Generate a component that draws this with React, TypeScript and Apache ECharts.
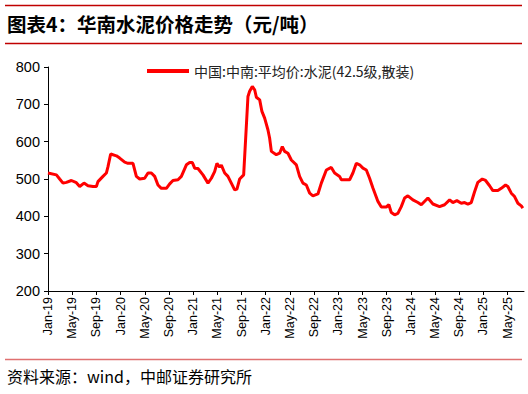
import React, { useEffect, useRef } from "react";
import * as echarts from "echarts";

// x = months since Jan 2019 (0 = Jan-19), y = price (元/吨)
const monthOffsets = [
  0.0, 1.39, 1.93, 2.48, 3.04, 3.87, 4.69, 5.24, 5.95, 6.61, 7.44, 8.0, 8.26, 9.09, 9.65, 9.92,
  10.36, 11.31, 11.85, 12.68, 13.22, 14.05, 14.61, 15.16, 15.98, 16.53, 17.09, 17.64, 18.18,
  18.74, 19.57, 20.12, 20.66, 21.49, 22.05, 22.88, 23.42, 23.87, 24.25, 24.79, 25.62, 26.45,
  27.01, 27.55, 27.93, 28.38, 28.66, 29.21, 29.75, 30.31, 30.86, 31.24, 31.69, 32.35, 33.06,
  33.34, 33.78, 34.17, 34.45, 35.0, 35.37, 35.82, 36.36, 36.64, 36.93, 37.75, 38.3, 38.74,
  39.12, 39.67, 40.23, 41.06, 41.6, 42.15, 42.71, 43.26, 43.8, 44.63, 45.19, 46.02, 46.84,
  47.39, 48.21, 48.5, 49.87, 50.41, 50.98, 51.52, 52.07, 52.63, 53.17, 53.72, 54.55, 55.11,
  55.93, 56.36, 56.76, 57.31, 57.85, 58.41, 58.96, 59.5, 60.33, 61.16, 61.72, 62.81, 63.64,
  64.74, 65.57, 66.4, 66.94, 67.6, 68.33, 68.88, 69.42, 69.98, 70.53, 71.07, 71.8, 72.35,
  73.01, 73.55, 74.38, 74.94, 75.65, 76.03, 76.6, 77.14, 77.69, 78.25, 78.51,
];
const prices = [
  516, 511, 500, 489, 491, 496, 490, 480, 489, 482, 480, 480, 493, 507, 516, 533,
  567, 562, 556, 545, 542, 542, 507, 500, 502, 516, 516, 507, 484,
  475, 475, 487, 496, 498, 507, 538, 544, 544, 529, 528, 511, 489,
  502, 520, 542, 532, 537, 516, 507, 489, 471, 473, 500, 511, 721,
  735, 748, 739, 719, 712, 681, 663, 632, 610, 574, 565, 569, 587,
  574, 569, 551, 538, 507, 489, 484, 462, 455, 460, 489, 524, 531,
  516, 507, 498, 498, 516, 542, 538, 529, 524, 502, 476, 440, 425,
  425, 431, 410, 404, 408, 426, 449, 455, 444, 437, 431, 449, 433,
  426, 431, 444, 437, 442, 435, 437, 433, 437, 466, 491, 500, 496,
  482, 469, 469, 475, 484, 480, 462, 453, 435, 428, 422,
];
const monthNames = ["Jan", "Feb", "Mar", "Apr", "May", "Jun", "Jul", "Aug", "Sep", "Oct", "Nov", "Dec"];
const seriesName = "中国:中南:平均价:水泥(42.5级,散装)";
const titleText = "图表4：华南水泥价格走势（元/吨）";
const sourceText = "资料来源：wind，中邮证券研究所";

export default function App() {
  const ref = useRef<HTMLDivElement>(null);
  useEffect(() => {
    if (!ref.current) return;
    const chart = echarts.init(ref.current, null, { renderer: "svg" });
    const data = monthOffsets.map((m, i) => [m, prices[i]]);
    chart.setOption({
      animation: false,
      backgroundColor: "#ffffff",
      grid: { left: 48, top: 67, right: 4, bottom: 103, containLabel: false },
      legend: {
        left: 142,
        top: 59,
        itemWidth: 42,
        itemHeight: 4,
        icon: "rect",
        itemGap: 6,
        textStyle: { fontSize: 14, color: "#222", fontFamily: "Noto Sans CJK SC" },
        data: [seriesName],
      },
      xAxis: {
        type: "value",
        min: 0,
        max: 78.7,
        interval: 4,
        axisLine: { show: true, onZero: false, lineStyle: { color: "#000", width: 1 } },
        axisTick: { show: true, length: 4, lineStyle: { color: "#000" } },
        splitLine: { show: false },
        axisLabel: {
          rotate: 90,
          fontSize: 12.5,
          color: "#000",
          margin: 6,
          fontFamily: "Liberation Sans",
          showMaxLabel: false,
          formatter: (v: number) => {
            const idx = Math.round(v);
            const y = 19 + Math.floor(idx / 12);
            return monthNames[idx % 12] + "-" + String(y);
          },
        },
      },
      yAxis: {
        type: "value",
        min: 200,
        max: 800,
        interval: 100,
        axisLine: { show: true, lineStyle: { color: "#000", width: 1 } },
        axisTick: { show: true, length: 4, lineStyle: { color: "#000" } },
        splitLine: { show: false },
        axisLabel: { fontSize: 14.5, color: "#000", margin: 8, fontFamily: "Liberation Sans" },
      },
      series: [
        {
          name: seriesName,
          type: "line",
          data,
          showSymbol: false,
          symbol: "none",
          lineStyle: { color: "#ff0000", width: 3 },
          itemStyle: { color: "#ff0000" },
        },
      ],
      graphic: [
        { type: "line", shape: { x1: 5, y1: 5.5, x2: 522, y2: 5.5 }, style: { stroke: "#c00000", lineWidth: 1.5 } },
        { type: "line", shape: { x1: 5, y1: 43.5, x2: 522, y2: 43.5 }, style: { stroke: "#c00000", lineWidth: 1.5 } },
        {
          type: "text",
          left: 7,
          top: 14,
          style: {
            text: titleText,
            fontSize: 19.5,
            fontWeight: "bold",
            fill: "#000",
            fontFamily: "Noto Sans CJK SC",
          },
        },
        { type: "line", shape: { x1: 5, y1: 359.5, x2: 522, y2: 359.5 }, style: { stroke: "#e07070", lineWidth: 1.5 } },
        {
          type: "text",
          left: 7,
          top: 368,
          style: {
            text: sourceText,
            fontSize: 16,
            fill: "#000",
            fontFamily: "Noto Sans CJK SC",
          },
        },
      ],
    });
    return () => chart.dispose();
  }, []);
  return <div ref={ref} style={{ width: 528, height: 394, position: "absolute", left: 0, top: 0 }} />;
}
